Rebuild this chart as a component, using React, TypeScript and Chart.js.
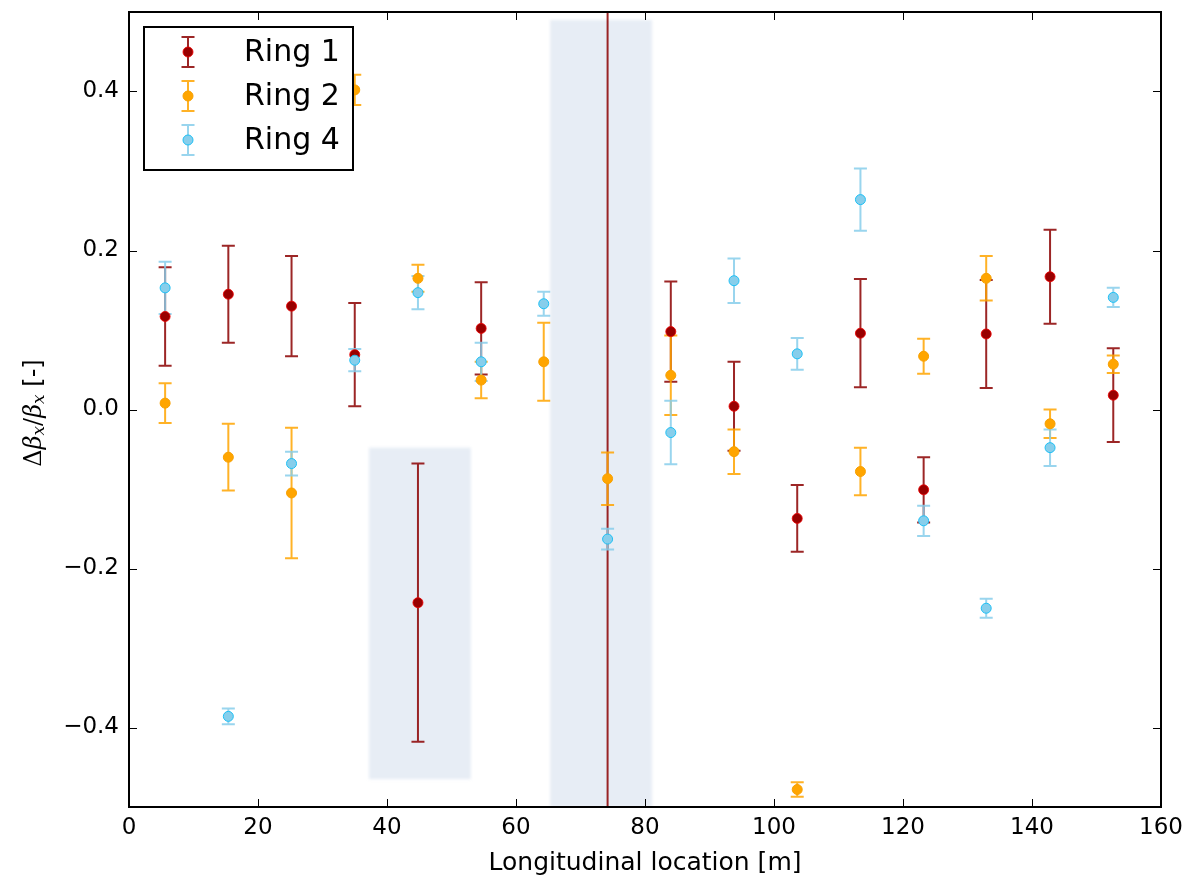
import React, { useEffect, useRef } from 'react';
import { Chart, registerables } from 'chart.js';

Chart.register(...registerables);

const seriesNames = ['Ring 1', 'Ring 2', 'Ring 4'];

const ring1X = [5.6, 15.4, 25.2, 35.0, 44.8, 54.6, 74.2, 84.0, 93.8, 103.6, 113.4, 123.2, 132.9, 142.8, 152.6];
const ring1Y = [0.117, 0.145, 0.130, 0.069, -0.243, 0.102, 0.6, 0.098, 0.004, -0.137, 0.096, -0.101, 0.095, 0.167, 0.018];
const ring1Err = [0.062, 0.061, 0.063, 0.065, 0.175, 0.058, 1.5, 0.063, 0.056, 0.042, 0.068, 0.041, 0.068, 0.059, 0.059];

const ring2X = [5.6, 15.4, 25.2, 35.0, 44.8, 54.6, 64.3, 74.2, 84.0, 93.8, 103.6, 113.4, 123.2, 132.9, 142.8, 152.6];
const ring2Y = [0.008, -0.060, -0.105, 0.402, 0.165, 0.037, 0.060, -0.087, 0.043, -0.053, -0.478, -0.078, 0.067, 0.165, -0.018, 0.057];
const ring2Err = [0.025, 0.042, 0.082, 0.019, 0.017, 0.023, 0.049, 0.033, 0.050, 0.028, 0.009, 0.030, 0.022, 0.028, 0.018, 0.011];

const ring4X = [5.6, 15.4, 25.2, 35.0, 44.8, 54.6, 64.3, 74.2, 84.0, 93.8, 103.6, 113.4, 123.2, 132.9, 142.8, 152.6];
const ring4Y = [0.153, -0.386, -0.068, 0.062, 0.147, 0.060, 0.133, -0.163, -0.029, 0.162, 0.070, 0.264, -0.140, -0.250, -0.048, 0.141];
const ring4Err = [0.033, 0.010, 0.015, 0.014, 0.021, 0.024, 0.015, 0.013, 0.040, 0.028, 0.020, 0.039, 0.019, 0.012, 0.023, 0.012];

const shadeXStart = [37.2, 65.3];
const shadeXEnd = [53.0, 81.1];
const shadeYLow = [-0.465, -0.5];
const shadeYHigh = [-0.048, 0.49];

const xTickValues = [0, 20, 40, 60, 80, 100, 120, 140, 160];
const yTickValues = [-0.4, -0.2, 0.0, 0.2, 0.4];

const FONT = 'DejaVu Sans';

const seriesStyle = [
  { bar: 'rgba(139,0,0,0.85)', fill: '#990000', edge: 'rgba(235,0,0,0.85)' },
  { bar: 'rgba(255,165,0,0.85)', fill: '#ffa500', edge: '#f7a000' },
  { bar: 'rgba(135,206,235,0.85)', fill: '#87ceeb', edge: '#1ec0f5' },
];

const seriesData = [
  { x: ring1X, y: ring1Y, e: ring1Err },
  { x: ring2X, y: ring2Y, e: ring2Err },
  { x: ring4X, y: ring4Y, e: ring4Err },
];

const CAP = 6.5;

function drawErrorBar(ctx: CanvasRenderingContext2D, px: number, pTop: number, pBot: number, color: string) {
  ctx.strokeStyle = color;
  ctx.lineWidth = 2;
  ctx.beginPath();
  ctx.moveTo(px, pTop);
  ctx.lineTo(px, pBot);
  ctx.moveTo(px - CAP, pTop);
  ctx.lineTo(px + CAP, pTop);
  ctx.moveTo(px - CAP, pBot);
  ctx.lineTo(px + CAP, pBot);
  ctx.stroke();
}

const backgroundPlugin = {
  id: 'bgAndErrors',
  beforeDatasetsDraw(chart: any) {
    const { ctx, chartArea, scales } = chart;
    const xs = scales.x;
    const ys = scales.y;
    ctx.save();
    ctx.beginPath();
    ctx.rect(chartArea.left, chartArea.top, chartArea.right - chartArea.left, chartArea.bottom - chartArea.top);
    ctx.clip();
    ctx.fillStyle = 'rgba(176,196,222,0.3)';
    ctx.filter = 'blur(1.5px)';
    for (let i = 0; i < shadeXStart.length; i++) {
      const x0 = xs.getPixelForValue(shadeXStart[i]);
      const x1 = xs.getPixelForValue(shadeXEnd[i]);
      const y0 = ys.getPixelForValue(shadeYHigh[i]);
      const y1 = ys.getPixelForValue(shadeYLow[i]);
      ctx.fillRect(x0, y0, x1 - x0, y1 - y0);
    }
    ctx.filter = 'none';
    seriesData.forEach((s, si) => {
      for (let i = 0; i < s.x.length; i++) {
        const px = xs.getPixelForValue(s.x[i]);
        const pTop = ys.getPixelForValue(s.y[i] + s.e[i]);
        const pBot = ys.getPixelForValue(s.y[i] - s.e[i]);
        drawErrorBar(ctx, px, pTop, pBot, seriesStyle[si].bar);
      }
    });
    ctx.restore();
  },
};

function drawYTitle(ctx: CanvasRenderingContext2D, cx: number, cy: number) {
  const size = 24;
  const sub = Math.round(size * 0.7);
  const parts = [
    { t: '\u0394', f: `${size}px DejaVu Serif`, dy: 0 },
    { t: '\u03b2', f: `italic ${size}px DejaVu Serif`, dy: 0 },
    { t: 'x', f: `italic ${sub}px DejaVu Serif`, dy: 5 },
    { t: '/', f: `${size}px DejaVu Serif`, dy: 0 },
    { t: '\u03b2', f: `italic ${size}px DejaVu Serif`, dy: 0 },
    { t: 'x', f: `italic ${sub}px DejaVu Serif`, dy: 5 },
    { t: ' [-]', f: `${size}px ${FONT}`, dy: 0 },
  ];
  ctx.save();
  ctx.translate(cx, cy);
  ctx.rotate(-Math.PI / 2);
  ctx.fillStyle = '#000';
  ctx.textBaseline = 'middle';
  ctx.textAlign = 'left';
  let total = 0;
  for (const p of parts) {
    ctx.font = p.f;
    total += ctx.measureText(p.t).width;
  }
  let x = -total / 2;
  for (const p of parts) {
    ctx.font = p.f;
    ctx.fillText(p.t, x, p.dy);
    x += ctx.measureText(p.t).width;
  }
  ctx.restore();
}

const framePlugin = {
  id: 'frameLegend',
  afterDraw(chart: any) {
    const { ctx, chartArea, scales } = chart;
    const xs = scales.x;
    const ys = scales.y;
    const { left, right, top, bottom } = chartArea;
    ctx.save();
    ctx.strokeStyle = '#000';
    ctx.lineWidth = 1;
    ctx.beginPath();
    const TL = 8;
    for (const v of xTickValues) {
      const px = Math.round(xs.getPixelForValue(v)) + 0.5;
      ctx.moveTo(px, bottom);
      ctx.lineTo(px, bottom - TL);
      ctx.moveTo(px, top);
      ctx.lineTo(px, top + TL);
    }
    for (const v of yTickValues) {
      const py = Math.round(ys.getPixelForValue(v)) + 0.5;
      ctx.moveTo(left, py);
      ctx.lineTo(left + TL, py);
      ctx.moveTo(right, py);
      ctx.lineTo(right - TL, py);
    }
    ctx.stroke();
    ctx.lineWidth = 2;
    ctx.strokeRect(left, top, right - left, bottom - top);

    const lx = 144, ly = 27, lw = 209, lh = 143;
    ctx.fillStyle = '#fff';
    ctx.fillRect(lx, ly, lw, lh);
    ctx.lineWidth = 2;
    ctx.strokeStyle = '#000';
    ctx.strokeRect(lx, ly, lw, lh);
    const rowY = [52, 96, 140];
    seriesNames.forEach((name, i) => {
      const st = seriesStyle[i];
      const mx = 188;
      const my = rowY[i];
      drawErrorBar(ctx, mx, my - 15, my + 15, st.bar);
      ctx.beginPath();
      ctx.arc(mx, my, 5, 0, Math.PI * 2);
      ctx.fillStyle = st.fill;
      ctx.fill();
      ctx.lineWidth = 1;
      ctx.strokeStyle = st.edge;
      ctx.stroke();
      ctx.fillStyle = '#000';
      ctx.font = `30px ${FONT}`;
      ctx.textBaseline = 'middle';
      ctx.textAlign = 'left';
      ctx.fillText(name, 244, my + 1);
    });
    ctx.restore();

    drawYTitle(ctx, 35, 413);
  },
};

export default function App() {
  const canvasRef = useRef<HTMLCanvasElement | null>(null);

  useEffect(() => {
    const canvas = canvasRef.current;
    if (!canvas) return;
    const orders = [2, 1, 0];
    const datasets = seriesData.map((s, si) => ({
      label: seriesNames[si],
      data: s.x.map((x, i) => ({ x, y: s.y[i] })),
      pointRadius: 5,
      pointBorderWidth: 1,
      pointBackgroundColor: seriesStyle[si].fill,
      pointBorderColor: seriesStyle[si].edge,
      showLine: false,
      order: orders[si],
    }));
    const chart = new Chart(canvas, {
      type: 'scatter',
      data: { datasets },
      plugins: [backgroundPlugin, framePlugin],
      options: {
        animation: false,
        responsive: true,
        maintainAspectRatio: false,
        layout: { padding: { top: 12, right: 32, left: 0, bottom: 0 } },
        plugins: {
          legend: { display: false },
          tooltip: { enabled: false },
        },
        scales: {
          x: {
            type: 'linear',
            min: 0,
            max: 160,
            afterBuildTicks: (s: any) => {
              s.ticks = xTickValues.map((v) => ({ value: v }));
            },
            afterFit: (s: any) => {
              s.height = 71;
              s.paddingLeft = 0;
              s.paddingRight = 0;
            },
            ticks: {
              color: '#000',
              font: { family: FONT, size: 23 },
              padding: 7,
              maxRotation: 0,
              autoSkip: false,
              callback: (v: any) => String(v),
            },
            grid: { display: false, drawTicks: false },
            border: { display: false },
            title: {
              display: true,
              text: 'Longitudinal location [m]',
              color: '#000',
              font: { family: FONT, size: 25 },
              padding: { top: 0, bottom: 0 },
            },
          },
          y: {
            type: 'linear',
            min: -0.5,
            max: 0.5,
            afterBuildTicks: (s: any) => {
              s.ticks = yTickValues.map((v) => ({ value: v }));
            },
            afterFit: (s: any) => {
              s.width = 129;
              s.paddingTop = 0;
              s.paddingBottom = 0;
            },
            ticks: {
              color: '#000',
              font: { family: FONT, size: 23 },
              padding: 10,
              autoSkip: false,
              callback: (v: any) => {
                const n = Number(v);
                return (n < -1e-9 ? '\u2212' : '') + Math.abs(n).toFixed(1);
              },
            },
            grid: { display: false, drawTicks: false },
            border: { display: false },
          },
        },
      } as any,
    });
    return () => chart.destroy();
  }, []);

  return (
    <div style={{ position: 'absolute', left: 0, top: 0, width: 1193, height: 878, background: '#fff' }}>
      <canvas ref={canvasRef} />
    </div>
  );
}
